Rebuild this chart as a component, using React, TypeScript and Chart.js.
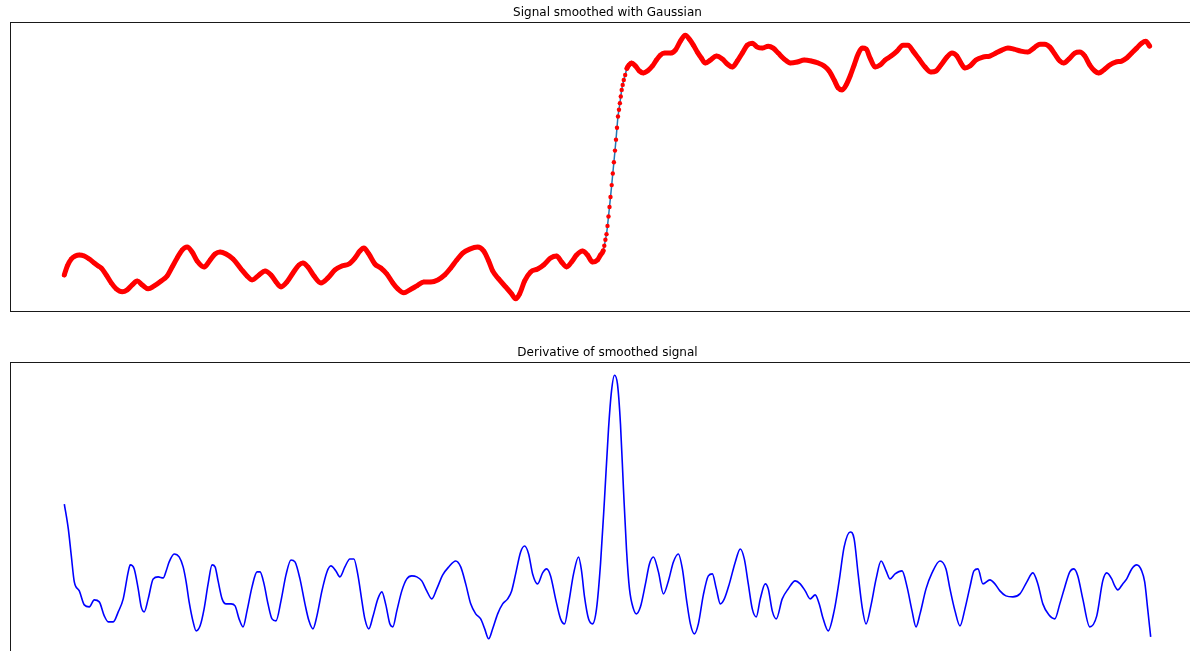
import React, { useEffect, useRef } from "react";
import { Chart, registerables } from "chart.js";

Chart.register(...registerables);

// ---- data ----
const topTitle = "Signal smoothed with Gaussian";
const bottomTitle = "Derivative of smoothed signal";

// smoothed signal: sample position and value
const topT = [
  0, 3, 7, 11, 15, 20, 25, 30, 34, 37, 42, 47, 52, 58, 63, 68, 73, 78, 84, 90,
  97, 103, 108, 113, 118, 123, 128, 133, 140, 146, 151, 156, 162, 169, 177, 183, 188, 195, 201, 207,
  212, 217, 223, 229, 235, 239, 244, 250, 257, 264, 271, 278, 285, 291, 296, 300, 305, 311, 317, 323,
  329, 334, 340, 346, 353, 360, 367, 374, 381, 387, 393, 399, 406, 414, 420, 425, 429, 435, 442, 448,
  452, 456, 461, 467, 474, 480, 487, 493, 498, 503, 508, 513, 519, 524, 529, 534, 537,
  539.7, 540.8, 541.9, 543.0, 544.0, 545.0, 546.0, 547.0, 548.2, 549.3, 550.4, 551.5, 552.5, 553.5, 554.5, 555.5,
  556.4, 557.3, 558.2, 559.2, 560.3, 561.7, 563.5,
  565.5, 568, 572, 576, 580, 584, 589, 593, 597, 601, 607, 612, 617, 622, 626, 630, 634, 638, 642, 647,
  653, 659, 664, 669, 674, 679, 684, 689, 694, 699, 705, 710, 715, 721, 727, 734, 741, 748, 755, 761,
  766, 771, 775, 779, 783, 787, 791, 795, 799, 803, 807, 812, 817, 822, 828, 834, 840, 845, 850, 856,
  862, 868, 873, 878, 884, 889, 894, 898, 902, 907, 913, 920, 927, 933, 939, 945, 951, 958, 965, 971,
  977, 982, 987, 992, 997, 1001, 1006, 1012, 1017, 1022, 1027, 1032, 1036, 1041, 1047, 1053, 1059, 1064, 1069, 1074,
  1079, 1083, 1087,
];
const topV = [
  24, 33, 40, 43, 44, 43, 40, 36, 33, 31, 24, 16, 10, 7, 9, 14, 18, 14, 10, 13,
  18, 23, 32, 41, 49, 52, 47, 38, 32, 39, 45, 47, 45, 40, 30, 23, 19, 24, 28, 24,
  17, 12, 17, 26, 34, 36, 32, 23, 16, 21, 29, 33, 35, 41, 48, 51, 45, 35, 31, 25,
  16, 10, 6, 9, 13, 17, 17, 19, 24, 31, 39, 46, 50, 52, 48, 38, 28, 20, 12, 5,
  0, 5, 18, 27, 30, 34, 41, 43, 37, 32, 37, 44, 48, 44, 37, 39, 44,
  48.3, 53.3, 59.3, 65, 73.3, 82.7, 92.3, 102.3, 114.3, 126, 137.3, 149, 160, 172, 183.3, 190,
  196.7, 203.3, 210, 215, 220, 225, 231.7,
  235, 237, 234, 229, 227, 229, 234, 240, 245, 247, 247, 250, 259, 265, 261, 255, 248, 242, 237, 240,
  244, 241, 236, 233, 239, 247, 255, 257, 253, 252, 254, 252, 247, 241, 237, 238, 240, 239, 237, 234,
  229, 220, 212, 210, 215, 224, 235, 246, 252, 251, 242, 233, 235, 240, 244, 249, 255, 255, 249, 241,
  233, 228, 229, 235, 243, 247, 244, 237, 232, 234, 240, 243, 244, 247, 250, 252, 251, 249, 248, 252,
  256, 256, 253, 246, 239, 237, 241, 247, 248, 244, 235, 229, 227, 230, 235, 238, 239, 242, 247, 252,
  257, 259, 254,
];

// derivative of smoothed signal: sample position and value
const bottomT = [
  0, 4, 7, 10, 15, 20, 25, 30, 35, 40, 44, 49, 54, 59, 64, 66, 70, 74, 77, 80,
  84, 89, 94, 99, 102, 105, 110, 115, 119, 122, 125, 129, 132, 136, 140, 144, 148, 151, 154, 158,
  162, 167, 171, 175, 179, 183, 188, 193, 196, 200, 204, 208, 212, 217, 222, 227, 231, 236, 241, 245,
  249, 253, 258, 263, 267, 272, 276, 281, 286, 290, 294, 298, 301, 305, 309, 314, 318, 322, 326, 329,
  333, 338, 343, 348, 353, 358, 363, 368, 373, 379, 385, 392, 397, 402, 407, 412, 417, 421, 425, 429,
  434, 439, 444, 448, 452, 457, 461, 465, 469, 474, 479, 483, 487, 492, 497, 501, 505, 510, 515, 518,
  521, 525, 529, 533, 537, 541, 545, 548, 551, 554, 557, 560, 563, 566, 570, 573, 577, 582, 586, 590,
  595, 600, 605, 610, 615, 619, 623, 627, 631, 635, 640, 645, 649, 653, 657, 661, 666, 672, 677, 681,
  685, 689, 693, 697, 702, 705, 709, 713, 719, 725, 732, 737, 742, 747, 752, 756, 760, 765, 771, 776,
  781, 787, 791, 795, 799, 803, 808, 813, 818, 823, 827, 832, 839, 844, 849, 853, 857, 863, 869, 877,
  883, 887, 892, 897, 902, 907, 911, 915, 920, 927, 932, 937, 943, 950, 957, 964, 970, 975, 980, 986,
  992, 997, 1002, 1007, 1011, 1015, 1020, 1027, 1034, 1040, 1044, 1049, 1052, 1055, 1060, 1064, 1069, 1074, 1079, 1082,
  1085, 1088,
];
const bottomV = [
  135, 110, 83, 57, 48, 34, 32, 39, 37, 23, 17, 17, 27, 40, 67, 74, 70, 50, 32, 27,
  40, 60, 62, 61, 68, 77, 85, 82, 72, 57, 37, 17, 8, 13, 30, 55, 74, 72, 58, 40,
  35, 35, 33, 20, 12, 28, 52, 67, 67, 55, 35, 20, 18, 38, 64, 79, 77, 60, 35, 18,
  10, 23, 48, 67, 73, 68, 62, 72, 80, 80, 64, 38, 20, 10, 22, 40, 47, 34, 15, 12,
  28, 48, 60, 63, 62, 58, 48, 40, 50, 64, 72, 78, 72, 55, 35, 25, 20, 10, 0, 10,
  25, 35, 40, 48, 65, 87, 93, 85, 65, 55, 66, 70, 63, 40, 20, 15, 35, 65, 82, 68,
  42, 20, 15, 30, 75, 140, 210, 248, 264, 255, 215, 150, 90, 50, 30, 25, 32, 55, 75, 82,
  67, 45, 58, 77, 85, 70, 40, 15, 5, 15, 44, 63, 65, 50, 35, 40, 55, 77, 90, 80,
  55, 30, 22, 40, 55, 50, 28, 20, 40, 50, 58, 55, 48, 40, 44, 35, 20, 8, 28, 58,
  92, 107, 100, 65, 32, 15, 34, 60, 78, 68, 60, 65, 68, 52, 28, 12, 25, 50, 66, 78,
  70, 50, 28, 13, 30, 52, 68, 70, 55, 59, 55, 48, 43, 42, 45, 57, 66, 55, 35, 24,
  20, 35, 52, 67, 70, 63, 40, 12, 23, 58, 66, 60, 53, 49, 55, 60, 70, 74, 68, 57,
  30, 2,
];

function autoLimits(vals: number[]): [number, number] {
  const lo = Math.min(...vals);
  const hi = Math.max(...vals);
  const m = (hi - lo) * 0.05;
  return [lo - m, hi + m];
}

const frameTitlePlugin = {
  id: "frameTitle",
  afterDatasetsDraw(chart: any, _args: any, opts: any) {
    const { ctx, chartArea: a } = chart;
    ctx.save();
    ctx.strokeStyle = "rgba(0,0,0,0.9)";
    ctx.lineWidth = 1;
    ctx.strokeRect(
      Math.round(a.left) + 0.5,
      Math.round(a.top) + 0.5,
      Math.round(a.right - a.left) - 1,
      Math.round(a.bottom - a.top) - 1
    );
    ctx.fillStyle = "#000";
    ctx.font = "12px 'DejaVu Sans'";
    ctx.textAlign = "center";
    ctx.textBaseline = "alphabetic";
    ctx.fillText(opts.text, (a.left + a.right) / 2, a.top - 6);
    ctx.restore();
  },
};

const CANVAS_W = 1215;

function steep(ctx: any): boolean {
  const dx = Math.abs(ctx.p1.x - ctx.p0.x);
  const dy = Math.abs(ctx.p1.y - ctx.p0.y);
  return dy > 3.2 * Math.max(dx, 0.01);
}

export default function App() {
  const topRef = useRef<HTMLCanvasElement>(null);
  const botRef = useRef<HTMLCanvasElement>(null);

  useEffect(() => {
    const xLim = autoLimits([...topT, ...bottomT]);
    const topLim = autoLimits(topV);
    const botLim = autoLimits(bottomV);
    const topPts = topT.map((t, i) => ({ x: t, y: topV[i] }));
    const botPts = bottomT.map((t, i) => ({ x: t, y: bottomV[i] }));

    const common = (yLim: [number, number], title: string, padBottom: number) => ({
      responsive: false,
      animation: false as const,
      devicePixelRatio: 1,
      events: [] as any[],
      layout: { padding: { left: 10, right: 10, top: 22, bottom: padBottom } },
      scales: {
        x: { type: "linear" as const, display: false, min: xLim[0], max: xLim[1] },
        y: { type: "linear" as const, display: false, min: yLim[0], max: yLim[1] },
      },
      plugins: {
        legend: { display: false },
        tooltip: { enabled: false },
        title: { display: false },
        frameTitle: { text: title },
      },
    });

    const top = new Chart(topRef.current!, {
      type: "line",
      data: {
        datasets: [
          {
            data: topPts,
            borderColor: "#ff0000",
            borderWidth: 5,
            borderCapStyle: "round",
            borderJoinStyle: "round",
            pointRadius: 2.2,
            pointBorderWidth: 0,
            pointBackgroundColor: "#ff0000",
            cubicInterpolationMode: "monotone",
            segment: {
              borderColor: (c: any) => (steep(c) ? "rgba(0,0,0,0)" : undefined),
            },
          } as any,
          {
            data: topPts,
            borderColor: "#1f77b4",
            borderWidth: 1.5,
            pointRadius: 0,
            cubicInterpolationMode: "monotone",
          } as any,
        ],
      },
      options: common(topLim, topTitle, 18) as any,
      plugins: [frameTitlePlugin],
    });

    const bot = new Chart(botRef.current!, {
      type: "line",
      data: {
        datasets: [
          {
            data: botPts,
            borderColor: "#0000ff",
            borderWidth: 1.6,
            pointRadius: 0,
            cubicInterpolationMode: "monotone",
          } as any,
        ],
      },
      options: common(botLim, bottomTitle, 8) as any,
      plugins: [frameTitlePlugin],
    });

    return () => {
      top.destroy();
      bot.destroy();
    };
  }, []);

  return (
    <div
      style={{
        position: "fixed",
        left: 0,
        top: 0,
        width: 1190,
        height: 651,
        overflow: "hidden",
        background: "#fff",
      }}
    >
      <canvas
        ref={topRef}
        width={CANVAS_W}
        height={330}
        style={{ position: "absolute", left: 0, top: 0, width: CANVAS_W, height: 330 }}
      />
      <canvas
        ref={botRef}
        width={CANVAS_W}
        height={320}
        style={{ position: "absolute", left: 0, top: 340, width: CANVAS_W, height: 320 }}
      />
    </div>
  );
}
